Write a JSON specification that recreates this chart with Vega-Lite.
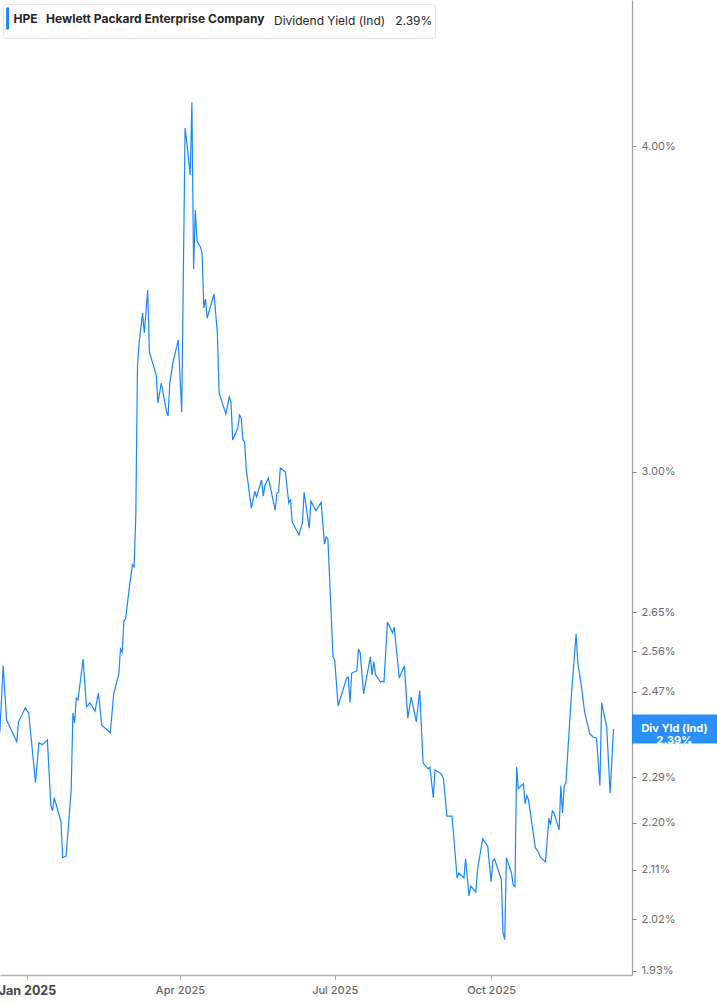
{
  "$schema": "https://vega.github.io/schema/vega-lite/v6.json",
  "width": 632,
  "height": 975,
  "autosize": {"type": "none"},
  "padding": {"left": 0, "top": 0, "right": 85, "bottom": 30},
  "background": "#ffffff",
  "config": {"view": {"stroke": null}, "font": "Inter"},
  "data": {
    "values": [
      {"date": "2024-12-16", "value": 2.382},
      {"date": "2024-12-18", "value": 2.527},
      {"date": "2024-12-20", "value": 2.409},
      {"date": "2024-12-26", "value": 2.363},
      {"date": "2024-12-27", "value": 2.405},
      {"date": "2024-12-31", "value": 2.435},
      {"date": "2025-01-02", "value": 2.424},
      {"date": "2025-01-06", "value": 2.279},
      {"date": "2025-01-08", "value": 2.361},
      {"date": "2025-01-10", "value": 2.357},
      {"date": "2025-01-13", "value": 2.367},
      {"date": "2025-01-15", "value": 2.235},
      {"date": "2025-01-16", "value": 2.223},
      {"date": "2025-01-17", "value": 2.249},
      {"date": "2025-01-21", "value": 2.202},
      {"date": "2025-01-22", "value": 2.133},
      {"date": "2025-01-24", "value": 2.136},
      {"date": "2025-01-27", "value": 2.265},
      {"date": "2025-01-28", "value": 2.424},
      {"date": "2025-01-29", "value": 2.403},
      {"date": "2025-01-30", "value": 2.456},
      {"date": "2025-01-31", "value": 2.452},
      {"date": "2025-02-03", "value": 2.542},
      {"date": "2025-02-05", "value": 2.437},
      {"date": "2025-02-07", "value": 2.446},
      {"date": "2025-02-10", "value": 2.428},
      {"date": "2025-02-12", "value": 2.467},
      {"date": "2025-02-14", "value": 2.398},
      {"date": "2025-02-19", "value": 2.382},
      {"date": "2025-02-21", "value": 2.465},
      {"date": "2025-02-24", "value": 2.509},
      {"date": "2025-02-25", "value": 2.565},
      {"date": "2025-02-26", "value": 2.558},
      {"date": "2025-02-27", "value": 2.629},
      {"date": "2025-02-28", "value": 2.634},
      {"date": "2025-03-02", "value": 2.702},
      {"date": "2025-03-04", "value": 2.763},
      {"date": "2025-03-05", "value": 2.758},
      {"date": "2025-03-06", "value": 2.885},
      {"date": "2025-03-07", "value": 3.296},
      {"date": "2025-03-08", "value": 3.364},
      {"date": "2025-03-10", "value": 3.451},
      {"date": "2025-03-11", "value": 3.391},
      {"date": "2025-03-13", "value": 3.522},
      {"date": "2025-03-14", "value": 3.334},
      {"date": "2025-03-18", "value": 3.268},
      {"date": "2025-03-19", "value": 3.188},
      {"date": "2025-03-21", "value": 3.244},
      {"date": "2025-03-24", "value": 3.165},
      {"date": "2025-03-25", "value": 3.151},
      {"date": "2025-03-26", "value": 3.244},
      {"date": "2025-03-28", "value": 3.308},
      {"date": "2025-03-31", "value": 3.370},
      {"date": "2025-04-02", "value": 3.162},
      {"date": "2025-04-04", "value": 4.064},
      {"date": "2025-04-05", "value": 4.014},
      {"date": "2025-04-07", "value": 3.899},
      {"date": "2025-04-08", "value": 4.158},
      {"date": "2025-04-09", "value": 3.588},
      {"date": "2025-04-10", "value": 3.780},
      {"date": "2025-04-11", "value": 3.678},
      {"date": "2025-04-13", "value": 3.659},
      {"date": "2025-04-14", "value": 3.639},
      {"date": "2025-04-15", "value": 3.467},
      {"date": "2025-04-16", "value": 3.494},
      {"date": "2025-04-17", "value": 3.436},
      {"date": "2025-04-21", "value": 3.510},
      {"date": "2025-04-23", "value": 3.391},
      {"date": "2025-04-24", "value": 3.216},
      {"date": "2025-04-28", "value": 3.157},
      {"date": "2025-04-30", "value": 3.205},
      {"date": "2025-05-01", "value": 3.190},
      {"date": "2025-05-02", "value": 3.085},
      {"date": "2025-05-05", "value": 3.118},
      {"date": "2025-05-06", "value": 3.154},
      {"date": "2025-05-07", "value": 3.146},
      {"date": "2025-05-08", "value": 3.085},
      {"date": "2025-05-09", "value": 3.080},
      {"date": "2025-05-10", "value": 3.005},
      {"date": "2025-05-13", "value": 2.905},
      {"date": "2025-05-15", "value": 2.949},
      {"date": "2025-05-16", "value": 2.934},
      {"date": "2025-05-19", "value": 2.978},
      {"date": "2025-05-20", "value": 2.936},
      {"date": "2025-05-21", "value": 2.965},
      {"date": "2025-05-23", "value": 2.983},
      {"date": "2025-05-27", "value": 2.900},
      {"date": "2025-05-28", "value": 2.944},
      {"date": "2025-05-29", "value": 2.946},
      {"date": "2025-05-30", "value": 3.010},
      {"date": "2025-06-02", "value": 2.999},
      {"date": "2025-06-04", "value": 2.918},
      {"date": "2025-06-05", "value": 2.928},
      {"date": "2025-06-06", "value": 2.869},
      {"date": "2025-06-10", "value": 2.837},
      {"date": "2025-06-12", "value": 2.867},
      {"date": "2025-06-13", "value": 2.946},
      {"date": "2025-06-16", "value": 2.854},
      {"date": "2025-06-17", "value": 2.923},
      {"date": "2025-06-20", "value": 2.898},
      {"date": "2025-06-23", "value": 2.920},
      {"date": "2025-06-25", "value": 2.814},
      {"date": "2025-06-26", "value": 2.832},
      {"date": "2025-06-27", "value": 2.827},
      {"date": "2025-06-30", "value": 2.547},
      {"date": "2025-07-01", "value": 2.540},
      {"date": "2025-07-03", "value": 2.439},
      {"date": "2025-07-08", "value": 2.500},
      {"date": "2025-07-09", "value": 2.502},
      {"date": "2025-07-10", "value": 2.446},
      {"date": "2025-07-11", "value": 2.511},
      {"date": "2025-07-14", "value": 2.516},
      {"date": "2025-07-15", "value": 2.565},
      {"date": "2025-07-16", "value": 2.556},
      {"date": "2025-07-18", "value": 2.465},
      {"date": "2025-07-22", "value": 2.547},
      {"date": "2025-07-23", "value": 2.507},
      {"date": "2025-07-24", "value": 2.536},
      {"date": "2025-07-25", "value": 2.507},
      {"date": "2025-07-28", "value": 2.491},
      {"date": "2025-07-29", "value": 2.493},
      {"date": "2025-07-30", "value": 2.491},
      {"date": "2025-08-01", "value": 2.627},
      {"date": "2025-08-04", "value": 2.602},
      {"date": "2025-08-05", "value": 2.615},
      {"date": "2025-08-08", "value": 2.500},
      {"date": "2025-08-11", "value": 2.527},
      {"date": "2025-08-13", "value": 2.413},
      {"date": "2025-08-15", "value": 2.458},
      {"date": "2025-08-18", "value": 2.405},
      {"date": "2025-08-20", "value": 2.472},
      {"date": "2025-08-22", "value": 2.319},
      {"date": "2025-08-25", "value": 2.307},
      {"date": "2025-08-26", "value": 2.311},
      {"date": "2025-08-28", "value": 2.249},
      {"date": "2025-08-29", "value": 2.305},
      {"date": "2025-09-01", "value": 2.299},
      {"date": "2025-09-02", "value": 2.295},
      {"date": "2025-09-03", "value": 2.287},
      {"date": "2025-09-05", "value": 2.213},
      {"date": "2025-09-08", "value": 2.213},
      {"date": "2025-09-11", "value": 2.095},
      {"date": "2025-09-12", "value": 2.104},
      {"date": "2025-09-15", "value": 2.095},
      {"date": "2025-09-16", "value": 2.131},
      {"date": "2025-09-18", "value": 2.062},
      {"date": "2025-09-19", "value": 2.080},
      {"date": "2025-09-22", "value": 2.069},
      {"date": "2025-09-23", "value": 2.110},
      {"date": "2025-09-26", "value": 2.169},
      {"date": "2025-09-29", "value": 2.155},
      {"date": "2025-10-01", "value": 2.088},
      {"date": "2025-10-02", "value": 2.127},
      {"date": "2025-10-03", "value": 2.131},
      {"date": "2025-10-07", "value": 2.092},
      {"date": "2025-10-08", "value": 1.996},
      {"date": "2025-10-09", "value": 1.984},
      {"date": "2025-10-10", "value": 2.133},
      {"date": "2025-10-13", "value": 2.104},
      {"date": "2025-10-14", "value": 2.082},
      {"date": "2025-10-15", "value": 2.079},
      {"date": "2025-10-16", "value": 2.311},
      {"date": "2025-10-17", "value": 2.267},
      {"date": "2025-10-20", "value": 2.277},
      {"date": "2025-10-21", "value": 2.237},
      {"date": "2025-10-22", "value": 2.253},
      {"date": "2025-10-23", "value": 2.245},
      {"date": "2025-10-27", "value": 2.152},
      {"date": "2025-10-29", "value": 2.142},
      {"date": "2025-10-30", "value": 2.134},
      {"date": "2025-11-02", "value": 2.125},
      {"date": "2025-11-04", "value": 2.209},
      {"date": "2025-11-05", "value": 2.196},
      {"date": "2025-11-06", "value": 2.223},
      {"date": "2025-11-07", "value": 2.219},
      {"date": "2025-11-10", "value": 2.186},
      {"date": "2025-11-11", "value": 2.273},
      {"date": "2025-11-12", "value": 2.219},
      {"date": "2025-11-13", "value": 2.273},
      {"date": "2025-11-14", "value": 2.279},
      {"date": "2025-11-17", "value": 2.452},
      {"date": "2025-11-20", "value": 2.599},
      {"date": "2025-11-21", "value": 2.534},
      {"date": "2025-11-23", "value": 2.485},
      {"date": "2025-11-25", "value": 2.426},
      {"date": "2025-11-28", "value": 2.380},
      {"date": "2025-11-30", "value": 2.373},
      {"date": "2025-12-02", "value": 2.371},
      {"date": "2025-12-04", "value": 2.273},
      {"date": "2025-12-05", "value": 2.446},
      {"date": "2025-12-08", "value": 2.394},
      {"date": "2025-12-10", "value": 2.258},
      {"date": "2025-12-12", "value": 2.390}
    ]
  },
  "encoding": {
    "x": {
      "field": "date",
      "type": "temporal",
      "scale": {
        "type": "utc",
        "domain": [
          {"year": 2024, "month": 12, "date": 16, "hours": 3, "utc": true},
          {"year": 2025, "month": 12, "date": 22, "hours": 21, "utc": true}
        ]
      },
      "axis": {
        "title": null,
        "grid": false,
        "values": [
          {"year": 2025, "month": 1, "date": 1, "utc": true},
          {"year": 2025, "month": 4, "date": 1, "utc": true},
          {"year": 2025, "month": 7, "date": 1, "utc": true},
          {"year": 2025, "month": 10, "date": 1, "utc": true}
        ],
        "format": "%b %Y",
        "labelFont": "Inter",
        "labelFontSize": {"condition": {"test": "utcmonth(datum.value) == 0", "value": 12.5}, "value": 11},
        "labelFontWeight": {"condition": {"test": "utcmonth(datum.value) == 0", "value": "bold"}, "value": 500},
        "labelColor": {"condition": {"test": "utcmonth(datum.value) == 0", "value": "#444444"}, "value": "#666666"},
        "labelFlush": false,
        "labelOverlap": false,
        "labelBound": false,
        "labelPadding": 5,
        "tickSize": 4,
        "tickColor": "#999999",
        "domainColor": "#b3b3b3",
        "domainWidth": 1.5
      }
    },
    "y": {
      "field": "value",
      "type": "quantitative",
      "scale": {"type": "log", "domain": [1.923, 4.551], "nice": false, "zero": false},
      "axis": {
        "orient": "right",
        "title": null,
        "grid": false,
        "values": [1.93, 2.02, 2.11, 2.2, 2.29, 2.39, 2.47, 2.56, 2.65, 3, 4],
        "format": ".2f",
        "labelExpr": "datum.label + '%'",
        "labelFont": "Inter",
        "labelFontSize": 11,
        "labelColor": "#6b6b6b",
        "labelFlush": false,
        "labelOverlap": false,
        "labelBound": false,
        "labelPadding": 5,
        "tickSize": 4,
        "tickColor": "#888888",
        "domainColor": "#9e9e9e",
        "domainWidth": 1.2
      }
    }
  },
  "layer": [
    {
      "mark": {"type": "line", "strokeWidth": 1.2, "interpolate": "linear"},
      "encoding": {
        "color": {
          "datum": "HPE\u00a0\u00a0\u00a0Hewlett Packard Enterprise Company",
          "type": "nominal",
          "scale": {"range": ["#1b87fb"]},
          "legend": {
            "orient": "none",
            "legendX": 3,
            "legendY": 4,
            "title": "Dividend Yield (Ind)\u00a0\u00a0\u00a02.39%\u00a0\u00a0\u00a0",
            "titleOrient": "right",
            "titleAnchor": "middle",
            "titleBaseline": "middle",
            "titleFont": "Inter",
            "titleFontSize": 12,
            "titleFontWeight": "normal",
            "titleColor": "#262626",
            "titlePadding": 10,
            "titleLimit": 400,
            "labelFont": "Inter",
            "labelFontSize": 12,
            "labelFontWeight": "bold",
            "labelColor": "#262626",
            "labelLimit": 400,
            "labelOffset": -16.5,
            "symbolType": "M-0.9,-1L-0.9,1",
            "symbolSize": 484,
            "symbolStrokeWidth": 3,
            "padding": 2,
            "strokeColor": "#e3e3e3",
            "fillColor": "#ffffff",
            "cornerRadius": 3
          }
        }
      }
    },
    {
      "transform": [
        {"window": [{"op": "row_number", "as": "rn"}], "sort": [{"field": "date", "order": "descending"}]},
        {"filter": "datum.rn == 1"}
      ],
      "mark": {
        "type": "point",
        "shape": "M-1,-0.34L1,-0.34L1,0.34L-1,0.34Z",
        "size": 7225,
        "filled": true,
        "color": "#1b87fb",
        "opacity": 0.93,
        "strokeWidth": 0,
        "xOffset": 61
      }
    },
    {
      "transform": [
        {"window": [{"op": "row_number", "as": "rn"}], "sort": [{"field": "date", "order": "descending"}]},
        {"filter": "datum.rn == 1"}
      ],
      "mark": {
        "type": "text",
        "text": ["Div Yld (Ind)", "2.39%"],
        "color": "#ffffff",
        "font": "Inter",
        "fontWeight": "bold",
        "fontSize": 11,
        "lineHeight": 12,
        "align": "center",
        "baseline": "middle",
        "xOffset": 61
      }
    }
  ]
}
